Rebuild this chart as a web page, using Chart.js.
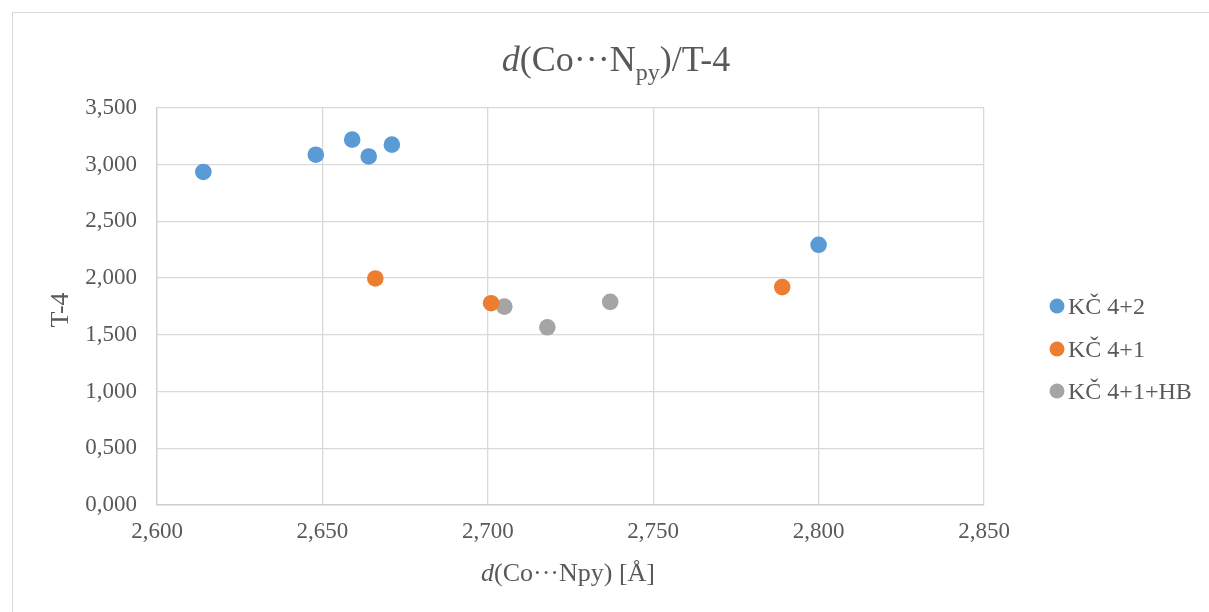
<!DOCTYPE html>
<html><head><meta charset="utf-8">
<script src="https://cdn.jsdelivr.net/npm/chart.js@4/dist/chart.umd.min.js"></script>
<style>html,body{margin:0;padding:0;background:#fff;overflow:hidden}#wrap{width:1209px;height:612px;position:relative}</style>
</head><body><div id="wrap"><canvas id="c" width="1209" height="612"></canvas></div>
<script>
// ---- data ----
const seriesNames = ['KČ 4+2', 'KČ 4+1', 'KČ 4+1+HB'];
const seriesColors = ['#5B9BD5', '#ED7D31', '#A5A5A5'];
const blueX = [2.614, 2.648, 2.659, 2.664, 2.671, 2.800];
const blueY = [2.936, 3.088, 3.221, 3.073, 3.177, 2.294];
const orangeX = [2.666, 2.701, 2.789];
const orangeY = [1.997, 1.779, 1.921];
const grayX = [2.705, 2.718, 2.737];
const grayY = [1.749, 1.567, 1.791];
const xMin = 2.6, xMax = 2.85, xStep = 0.05;
const yMin = 0, yMax = 3.5, yStep = 0.5;
const titleParts = [['d', 'i'], ['(Co···N', 'n'], ['py', 's'], [')/T-4', 'n']];
const xTitleParts = [['d', 'i'], ['(Co···Npy) [Å]', 'n']];
const yTitle = 'T-4';

const FONT = "'Liberation Serif', 'Times New Roman', serif";
const TXT = '#595959';
const GRID = '#d9d9d9';

function pts(xs, ys) { return xs.map((x, i) => ({ x: x, y: ys[i] })); }
const fmt = v => Number(v).toFixed(3).replace('.', ',');

const datasets = [pts(blueX, blueY), pts(orangeX, orangeY), pts(grayX, grayY)].map((d, i) => ({
  label: seriesNames[i], data: d,
  backgroundColor: seriesColors[i], borderColor: seriesColors[i],
  pointRadius: 8.3, pointHoverRadius: 8.3, borderWidth: 0, showLine: false
}));

function drawParts(ctx, parts, size, subSize, cx, baseY) {
  const fontOf = k => (k === 'i' ? 'italic ' : '') + (k === 's' ? subSize : size) + 'px ' + FONT;
  let total = 0;
  parts.forEach(p => { ctx.font = fontOf(p[1]); total += ctx.measureText(p[0]).width; });
  let x = cx - total / 2;
  ctx.textAlign = 'left'; ctx.textBaseline = 'alphabetic'; ctx.fillStyle = TXT;
  parts.forEach(p => {
    ctx.font = fontOf(p[1]);
    ctx.fillText(p[0], x, baseY + (p[1] === 's' ? Math.round(size * 0.24) : 0));
    x += ctx.measureText(p[0]).width;
  });
}

const decor = {
  id: 'decor',
  afterDraw(chart) {
    const ctx = chart.ctx;
    ctx.save();
    ctx.strokeStyle = GRID; ctx.lineWidth = 1;
    ctx.strokeRect(12.5, 12.5, 1300, 700);
    drawParts(ctx, titleParts, 36, 24, 616, 71);
    drawParts(ctx, xTitleParts, 26, 26, 568, 581);
    ctx.save();
    ctx.translate(61, 310); ctx.rotate(-Math.PI / 2);
    ctx.font = '26px ' + FONT; ctx.fillStyle = TXT; ctx.textAlign = 'center'; ctx.textBaseline = 'middle';
    ctx.fillText(yTitle, 0, 0);
    ctx.restore();
    // legend
    const rows = [306, 349, 391];
    chart.data.datasets.forEach((ds, i) => {
      ctx.beginPath(); ctx.fillStyle = ds.backgroundColor;
      ctx.arc(1057, rows[i], 7.5, 0, Math.PI * 2); ctx.fill();
      ctx.font = '24px ' + FONT; ctx.fillStyle = TXT; ctx.textAlign = 'left'; ctx.textBaseline = 'alphabetic';
      ctx.fillText(ds.label, 1068, rows[i] + 8);
    });
    ctx.restore();
  }
};

new Chart(document.getElementById('c'), {
  type: 'scatter',
  data: { datasets: datasets },
  plugins: [decor],
  options: {
    responsive: false, animation: false, devicePixelRatio: 1,
    layout: { padding: { top: 108, left: 0, right: 225, bottom: 0 } },
    plugins: { legend: { display: false }, title: { display: false }, tooltip: { enabled: false } },
    scales: {
      x: {
        type: 'linear', min: xMin, max: xMax,
        afterFit(s) { s.height = 107; },
        ticks: { stepSize: xStep, callback: fmt, color: TXT, font: { family: FONT, size: 23 }, padding: 13, maxRotation: 0 },
        grid: { color: GRID, lineWidth: 1.3, drawTicks: false },
        border: { color: '#d0d0d0', width: 1.5 }
      },
      y: {
        type: 'linear', min: yMin, max: yMax,
        afterFit(s) { s.width = 157; },
        ticks: { stepSize: yStep, callback: fmt, color: TXT, font: { family: FONT, size: 23 }, padding: 20 },
        grid: { color: GRID, lineWidth: 1.3, drawTicks: false },
        border: { color: '#d0d0d0', width: 1.3 }
      }
    }
  }
});
</script>
</body></html>
